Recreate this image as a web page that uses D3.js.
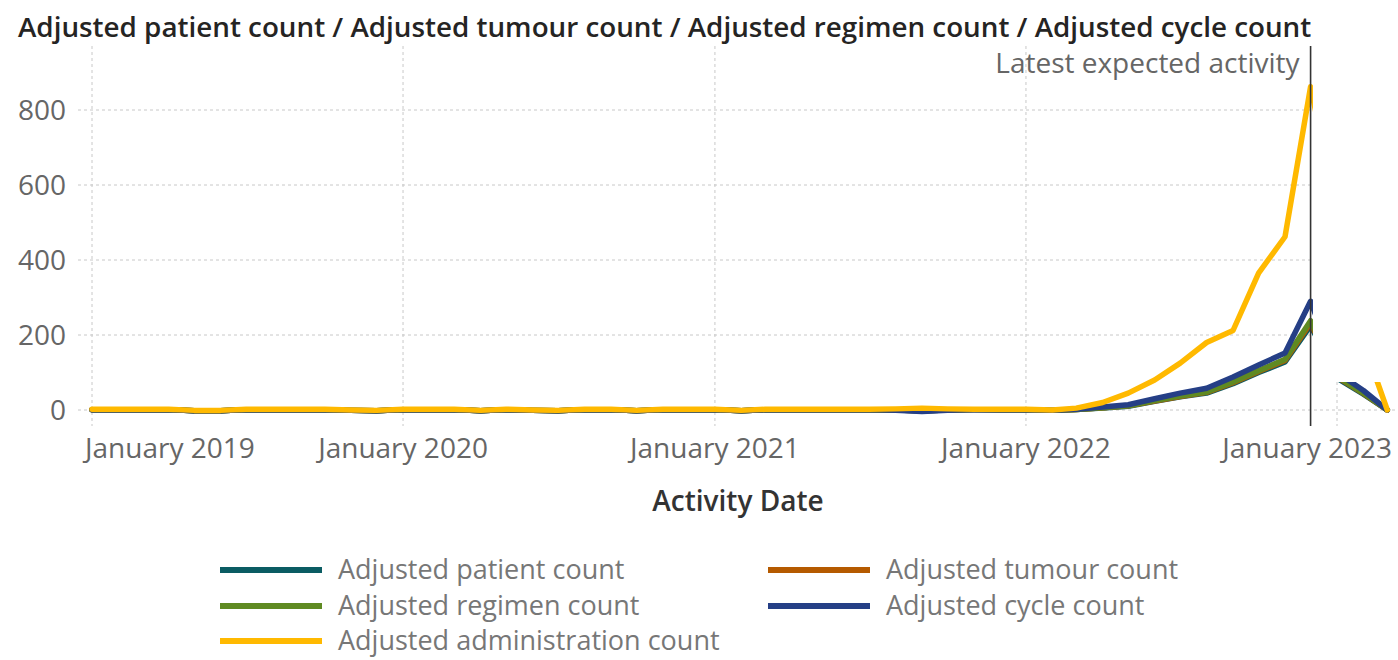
<!DOCTYPE html>
<html><head><meta charset="utf-8">
<script src="https://cdn.jsdelivr.net/npm/d3@7"></script>
<style>
html,body{margin:0;padding:0;background:#fff;}
svg{display:block;font-family:"Open Sans","Noto Sans",sans-serif;}
</style></head>
<body><svg id="c" width="1398" height="660"></svg>
<script>
const months = ["2019-01","2019-02","2019-03","2019-04","2019-05","2019-06","2019-07","2019-08","2019-09","2019-10","2019-11","2019-12",
"2020-01","2020-02","2020-03","2020-04","2020-05","2020-06","2020-07","2020-08","2020-09","2020-10","2020-11","2020-12",
"2021-01","2021-02","2021-03","2021-04","2021-05","2021-06","2021-07","2021-08","2021-09","2021-10","2021-11","2021-12",
"2022-01","2022-02","2022-03","2022-04","2022-05","2022-06","2022-07","2022-08","2022-09","2022-10","2022-11","2022-12",
"2023-01","2023-02","2023-03"];
const patientCount = [1,1,1,1,-2,-2,1,1,1,1,-1,-2,1,1,1,-2,1,-1,-2,1,1,-2,1,1,1,-2,1,1,1,1,1,0,-2,0,1,1,1,-1,
  1,5,10,23,35,45,70,100,128,225,85,42,0];
const tumourCount = [1,1,1,1,-2,-2,1,1,1,1,-1,-2,1,1,1,-2,1,-1,-2,1,1,-2,1,1,1,-2,1,1,1,1,1,0,-2,0,1,1,1,-1,
  1,6,11,24,36,47,73,103,132,232,88,44,0];
const regimenCount = [1,1,1,1,-2,-2,1,1,1,1,-1,-2,1,1,1,-2,1,-1,-2,1,1,-2,1,1,1,-2,1,1,1,1,1,0,-2,0,1,1,1,-1,
  1,6,11,25,37,48,75,105,135,238,90,45,0];
const cycleCount = [1,1,1,1,-2,-2,1,1,1,1,-1,-2,1,1,1,-2,1,-1,-2,1,1,-2,1,1,1,-2,1,1,1,1,1,-1,-4,-1,1,1,1,-1,
  2,8,14,30,45,58,88,120,152,290,100,52,0];
const administrationCount = [2,2,2,2,-1,-1,2,2,2,2,0,-1,2,2,2,-1,2,0,-1,2,2,-1,2,2,2,-1,2,2,2,2,2,3,5,3,2,2,2,0,
  5,20,45,80,125,180,212,365,462,862,520,180,0];
const seriesNames = ["Adjusted patient count","Adjusted tumour count","Adjusted regimen count","Adjusted cycle count","Adjusted administration count"];
const seriesColors = ["#0b5c63","#b55a00","#5f8a22","#253f86","#ffb900"];
const yTicks = [0,200,400,600,800];
const xTickDates = ["2019-01","2020-01","2021-01","2022-01","2023-01"];
const xTickLabels = ["January 2019","January 2020","January 2021","January 2022","January 2023"];
const latestExpected = "2022-12";
const titleText = "Adjusted patient count / Adjusted tumour count / Adjusted regimen count / Adjusted cycle count";
const xTitle = "Activity Date";
const markerLabel = "Latest expected activity";

const seriesValues = [patientCount,tumourCount,regimenCount,cycleCount,administrationCount];
const parse = d3.timeParse("%Y-%m");
const dates = months.map(parse);

const svg = d3.select("#c");
const x = d3.scaleTime().domain([parse("2019-01"), parse("2023-01")]).range([92, 1337]);
const y = d3.scaleLinear().domain([0, 800]).range([410, 110]);
const plotTop = 46, plotBottom = 426, clipRight = 1313;
const FS = 28;

const defs = svg.append("defs");
const cp = defs.append("clipPath").attr("id","plotclip");
cp.append("rect").attr("x",0).attr("y",0).attr("width",clipRight).attr("height",660);
cp.append("rect").attr("x",clipRight).attr("y",382).attr("width",1398-clipRight).attr("height",48);

// title, sized to span the reference width
const title = svg.append("text").attr("x",18).attr("y",37)
  .attr("font-size",23).attr("font-weight",600).attr("fill","#252423").text(titleText);
const tw = title.node().getComputedTextLength();
title.attr("font-size", 23 * 1294 / tw);

const g = svg.append("g").attr("clip-path","url(#plotclip)");
// horizontal grid
g.append("g").selectAll("line").data(yTicks).join("line")
  .attr("x1",78).attr("x2",d => d===0 ? 1398 : clipRight)
  .attr("y1",d=>y(d)).attr("y2",d=>y(d))
  .attr("stroke","#c8c8c8").attr("stroke-width",1).attr("stroke-dasharray","3,3");
// vertical grid
g.append("g").selectAll("line").data(xTickDates).join("line")
  .attr("x1",d=>x(parse(d))).attr("x2",d=>x(parse(d)))
  .attr("y1",plotTop).attr("y2",plotBottom)
  .attr("stroke","#c8c8c8").attr("stroke-width",1).attr("stroke-dasharray","3,3");

// lines
const line = d3.line().x((d,i)=>x(dates[i])).y(d=>y(d));
g.append("g").selectAll("path").data(seriesValues).join("path")
  .attr("d", d=>line(d)).attr("fill","none")
  .attr("stroke",(d,i)=>seriesColors[i]).attr("stroke-width",5.5)
  .attr("stroke-linejoin","round").attr("stroke-linecap","round");

// y tick labels
svg.append("g").selectAll("text").data(yTicks).join("text")
  .attr("x",66).attr("y",d=>y(d)).attr("dy","0.35em").attr("text-anchor","end")
  .attr("font-size",FS).attr("fill","#666").text(d=>d3.format("d")(d));

// x tick labels with clamping
const xl = svg.append("g").selectAll("text").data(xTickDates).join("text")
  .attr("y",458).attr("font-size",FS).attr("fill","#666").text((d,i)=>xTickLabels[i]);
xl.each(function(d){
  const w = this.getComputedTextLength();
  let cx = x(parse(d)) - w/2;
  cx = Math.max(85, Math.min(1392 - w, cx));
  d3.select(this).attr("x",cx);
});

// axis title
svg.append("text").attr("x",738).attr("y",511).attr("text-anchor","middle")
  .attr("font-size",FS).attr("font-weight",600).attr("fill","#333").text(xTitle);

// marker line
const mx = x(parse(latestExpected));
svg.append("line").attr("x1",mx).attr("x2",mx).attr("y1",plotTop).attr("y2",plotBottom)
  .attr("stroke","#333").attr("stroke-width",1.6);
svg.append("text").attr("x",mx-11).attr("y",73).attr("text-anchor","end")
  .attr("font-size",FS).attr("fill","#666").text(markerLabel);

// legend
const legPos = [[220,570],[768,570],[220,606],[768,606],[220,641]];
const lg = svg.append("g").selectAll("g").data(seriesNames).join("g")
  .attr("transform",(d,i)=>`translate(${legPos[i][0]},${legPos[i][1]})`);
lg.append("line").attr("x1",0).attr("x2",102).attr("y1",0).attr("y2",0)
  .attr("stroke",(d,i)=>seriesColors[i]).attr("stroke-width",6);
lg.append("text").attr("x",118).attr("y",0).attr("dy","0.33em")
  .attr("font-size",27).attr("fill","#777").text(d=>d);
</script></body></html>
